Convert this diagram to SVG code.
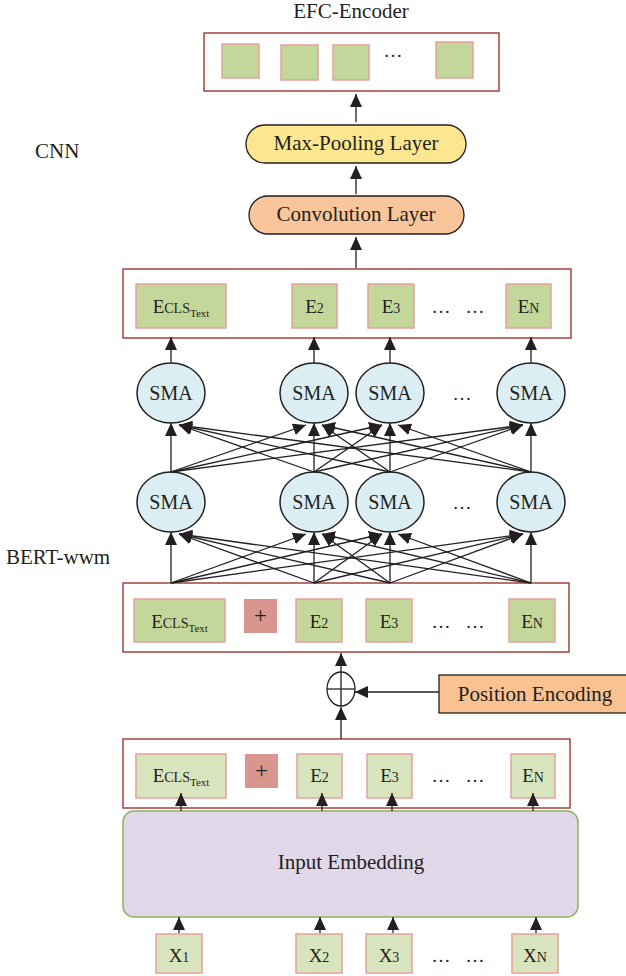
<svg xmlns="http://www.w3.org/2000/svg" width="626" height="976" viewBox="0 0 626 976">
<style>
text{font-family:"Liberation Serif","Times New Roman",serif;fill:#231f20;}
.lbl{font-size:21px;}
.t{font-size:21px;text-anchor:middle;}
.s{font-size:20px;text-anchor:middle;}
.sm{font-size:14px;}
.sub{font-size:11px;}
.pl{font-size:23px;text-anchor:middle;}
.frame{fill:#fff;stroke:#a5423e;stroke-width:1.5;}
.g{fill:#c4d79b;stroke:#e8a19b;stroke-width:1.5;}
.lg{fill:#d8e4bd;stroke:#e8a19b;stroke-width:1.5;}
.plus{fill:#d9968f;}
.sma{fill:#dbeef4;stroke:#231f20;stroke-width:1.5;}
.ln{stroke:#231f20;stroke-width:1.3;fill:none;marker-end:url(#ah);}
.dots{font-size:19px;text-anchor:middle;}
</style>
<defs>
<marker id="ah" markerUnits="userSpaceOnUse" markerWidth="13" markerHeight="13" viewBox="0 0 13 12" refX="13" refY="6" orient="auto">
<path d="M0,0 L13,6 L0,12 z" fill="#231f20"/>
</marker>
</defs>

<text class="lbl" x="351" y="18" text-anchor="middle">EFC-Encoder</text>
<text class="lbl" x="35" y="158">CNN</text>
<text class="lbl" x="6" y="564">BERT-wwm</text>

<g id="efc-encoder">
<rect class="frame" x="204" y="33" width="295" height="58"/>
<rect class="g" x="222" y="44" width="37" height="34"/>
<rect class="g" x="281" y="45" width="37" height="35"/>
<rect class="g" x="333" y="45" width="36" height="35"/>
<text class="dots" x="393" y="57">…</text>
<rect class="g" x="436" y="42" width="37" height="36"/>
</g>

<g id="max-pooling">
<rect x="246" y="125" width="220" height="38" rx="19" fill="#fce690" stroke="#231f20" stroke-width="1.3"/>
<text class="t" x="356" y="150">Max-Pooling Layer</text>
</g>

<g id="convolution">
<rect x="249" y="196" width="215" height="38" rx="19" fill="#f9c59b" stroke="#231f20" stroke-width="1.3"/>
<text class="t" x="356" y="221">Convolution Layer</text>
</g>

<g id="bert-output">
<rect class="frame" x="123" y="269" width="448" height="69"/>
<rect class="g" x="136" y="284" width="90" height="44"/>
<text x="181" y="313" text-anchor="middle"><tspan font-size="19">E</tspan><tspan class="sm">CLS</tspan><tspan class="sub" dy="4">Text</tspan></text>
<rect class="g" x="292" y="284" width="45" height="44"/>
<text x="314.5" y="313" text-anchor="middle"><tspan font-size="19">E</tspan><tspan class="sm">2</tspan></text>
<rect class="g" x="368" y="284" width="46" height="44"/>
<text x="391" y="313" text-anchor="middle"><tspan font-size="19">E</tspan><tspan class="sm">3</tspan></text>
<text class="dots" x="441" y="313">…</text>
<text class="dots" x="475" y="313">…</text>
<rect class="g" x="506" y="284" width="45" height="44"/>
<text x="528.5" y="313" text-anchor="middle"><tspan font-size="19">E</tspan><tspan class="sm">N</tspan></text>
</g>

<g id="sma-top-1"><ellipse class="sma" cx="171" cy="393" rx="34" ry="30"/><text class="s" x="171" y="400">SMA</text></g>
<g id="sma-top-2"><ellipse class="sma" cx="314" cy="393" rx="34" ry="30"/><text class="s" x="314" y="400">SMA</text></g>
<g id="sma-top-3"><ellipse class="sma" cx="390" cy="393" rx="34" ry="30"/><text class="s" x="390" y="400">SMA</text></g>
<g id="sma-top-n"><ellipse class="sma" cx="531" cy="393" rx="34" ry="30"/><text class="s" x="531" y="400">SMA</text></g>
<text class="dots" x="462" y="400">…</text>

<g id="sma-bot-1"><ellipse class="sma" cx="171" cy="502" rx="34" ry="30"/><text class="s" x="171" y="509">SMA</text></g>
<g id="sma-bot-2"><ellipse class="sma" cx="314" cy="502" rx="34" ry="30"/><text class="s" x="314" y="509">SMA</text></g>
<g id="sma-bot-3"><ellipse class="sma" cx="390" cy="502" rx="34" ry="30"/><text class="s" x="390" y="509">SMA</text></g>
<g id="sma-bot-n"><ellipse class="sma" cx="531" cy="502" rx="34" ry="30"/><text class="s" x="531" y="509">SMA</text></g>
<text class="dots" x="462" y="509">…</text>

<g id="bert-input">
<rect class="frame" x="123" y="583" width="446" height="69"/>
<rect class="g" x="134" y="599" width="91" height="43"/>
<text x="179.5" y="628" text-anchor="middle"><tspan font-size="19">E</tspan><tspan class="sm">CLS</tspan><tspan class="sub" dy="4">Text</tspan></text>
<rect class="plus" x="244" y="599" width="33" height="34"/>
<text class="pl" x="260.5" y="623">+</text>
<rect class="g" x="296" y="599" width="46" height="43"/>
<text x="319" y="628" text-anchor="middle"><tspan font-size="19">E</tspan><tspan class="sm">2</tspan></text>
<rect class="g" x="366" y="599" width="46" height="43"/>
<text x="389" y="628" text-anchor="middle"><tspan font-size="19">E</tspan><tspan class="sm">3</tspan></text>
<text class="dots" x="441" y="628">…</text>
<text class="dots" x="475" y="628">…</text>
<rect class="g" x="509" y="599" width="46" height="43"/>
<text x="532" y="628" text-anchor="middle"><tspan font-size="19">E</tspan><tspan class="sm">N</tspan></text>
</g>

<g id="add">
<ellipse cx="341" cy="689" rx="14" ry="17" fill="#fff" stroke="#231f20" stroke-width="1.3"/>
<line x1="327" y1="689" x2="355" y2="689" stroke="#231f20" stroke-width="1.3"/>
<line x1="341" y1="672" x2="341" y2="706" stroke="#231f20" stroke-width="1.3"/>
</g>

<g id="position-encoding">
<rect x="439" y="675" width="190" height="38" fill="#fac291" stroke="#231f20" stroke-width="1.3"/>
<text class="t" x="535" y="701">Position Encoding</text>
</g>

<g id="embed-output">
<rect class="frame" x="123" y="739" width="447" height="69"/>
<rect class="lg" x="136" y="754" width="90" height="44"/>
<text x="181" y="782" text-anchor="middle"><tspan font-size="19">E</tspan><tspan class="sm">CLS</tspan><tspan class="sub" dy="4">Text</tspan></text>
<rect class="plus" x="245" y="754" width="33" height="34"/>
<text class="pl" x="261.5" y="778">+</text>
<rect class="lg" x="297" y="754" width="45" height="44"/>
<text x="319.5" y="782" text-anchor="middle"><tspan font-size="19">E</tspan><tspan class="sm">2</tspan></text>
<rect class="lg" x="367" y="754" width="45" height="44"/>
<text x="389.5" y="782" text-anchor="middle"><tspan font-size="19">E</tspan><tspan class="sm">3</tspan></text>
<text class="dots" x="441" y="782">…</text>
<text class="dots" x="475" y="782">…</text>
<rect class="lg" x="511" y="754" width="44" height="44"/>
<text x="533" y="782" text-anchor="middle"><tspan font-size="19">E</tspan><tspan class="sm">N</tspan></text>
</g>

<g id="input-embedding">
<rect x="123" y="811" width="455" height="106" rx="11" fill="#e0d7e8" stroke="#8eb35e" stroke-width="1.5"/>
<text class="t" x="351" y="869" font-size="22">Input Embedding</text>
</g>

<g id="x1"><rect class="lg" x="156" y="934" width="46" height="39"/><text x="179" y="962" text-anchor="middle"><tspan font-size="19">X</tspan><tspan class="sm">1</tspan></text></g>
<g id="x2"><rect class="lg" x="296" y="934" width="46" height="39"/><text x="319" y="962" text-anchor="middle"><tspan font-size="19">X</tspan><tspan class="sm">2</tspan></text></g>
<g id="x3"><rect class="lg" x="366" y="934" width="46" height="39"/><text x="389" y="962" text-anchor="middle"><tspan font-size="19">X</tspan><tspan class="sm">3</tspan></text></g>
<text class="dots" x="441" y="962">…</text>
<text class="dots" x="475" y="962">…</text>
<g id="xn"><rect class="lg" x="512" y="934" width="46" height="39"/><text x="535" y="962" text-anchor="middle"><tspan font-size="19">X</tspan><tspan class="sm">N</tspan></text></g>

<g id="connectors">
<line class="ln" x1="356" y1="122" x2="356" y2="94"/>
<line class="ln" x1="356" y1="194" x2="356" y2="166"/>
<line class="ln" x1="356" y1="268" x2="356" y2="237"/>

<line class="ln" x1="171" y1="363" x2="171" y2="337"/>
<line class="ln" x1="314" y1="363" x2="314" y2="337"/>
<line class="ln" x1="390" y1="363" x2="390" y2="337"/>
<line class="ln" x1="531" y1="363" x2="531" y2="337"/>

<line class="ln" x1="171" y1="472" x2="171" y2="423"/>
<line class="ln" x1="171" y1="472" x2="306" y2="425"/>
<line class="ln" x1="171" y1="472" x2="382" y2="425"/>
<line class="ln" x1="171" y1="472" x2="523" y2="425"/>
<line class="ln" x1="314" y1="472" x2="179" y2="425"/>
<line class="ln" x1="314" y1="472" x2="314" y2="423"/>
<line class="ln" x1="314" y1="472" x2="382" y2="425"/>
<line class="ln" x1="314" y1="472" x2="523" y2="425"/>
<line class="ln" x1="390" y1="472" x2="179" y2="425"/>
<line class="ln" x1="390" y1="472" x2="322" y2="425"/>
<line class="ln" x1="390" y1="472" x2="390" y2="423"/>
<line class="ln" x1="390" y1="472" x2="523" y2="425"/>
<line class="ln" x1="531" y1="472" x2="179" y2="425"/>
<line class="ln" x1="531" y1="472" x2="322" y2="425"/>
<line class="ln" x1="531" y1="472" x2="398" y2="425"/>
<line class="ln" x1="531" y1="472" x2="531" y2="423"/>

<line class="ln" x1="171" y1="583" x2="171" y2="532"/>
<line class="ln" x1="171" y1="583" x2="306" y2="534"/>
<line class="ln" x1="171" y1="583" x2="382" y2="534"/>
<line class="ln" x1="171" y1="583" x2="523" y2="534"/>
<line class="ln" x1="314" y1="583" x2="179" y2="534"/>
<line class="ln" x1="314" y1="583" x2="314" y2="532"/>
<line class="ln" x1="314" y1="583" x2="382" y2="534"/>
<line class="ln" x1="314" y1="583" x2="523" y2="534"/>
<line class="ln" x1="390" y1="583" x2="179" y2="534"/>
<line class="ln" x1="390" y1="583" x2="322" y2="534"/>
<line class="ln" x1="390" y1="583" x2="390" y2="532"/>
<line class="ln" x1="390" y1="583" x2="523" y2="534"/>
<line class="ln" x1="531" y1="583" x2="179" y2="534"/>
<line class="ln" x1="531" y1="583" x2="322" y2="534"/>
<line class="ln" x1="531" y1="583" x2="398" y2="534"/>
<line class="ln" x1="531" y1="583" x2="531" y2="532"/>

<line class="ln" x1="341" y1="672" x2="341" y2="653"/>
<line class="ln" x1="341" y1="739" x2="341" y2="707"/>
<line class="ln" x1="439" y1="692" x2="355" y2="692"/>

<line class="ln" x1="181" y1="811" x2="181" y2="793"/>
<line class="ln" x1="322" y1="811" x2="322" y2="793"/>
<line class="ln" x1="392" y1="811" x2="392" y2="793"/>
<line class="ln" x1="533" y1="811" x2="533" y2="793"/>

<line class="ln" x1="179" y1="933" x2="179" y2="917"/>
<line class="ln" x1="320" y1="933" x2="320" y2="917"/>
<line class="ln" x1="393" y1="933" x2="393" y2="917"/>
<line class="ln" x1="536" y1="933" x2="536" y2="917"/>
</g>
</svg>
